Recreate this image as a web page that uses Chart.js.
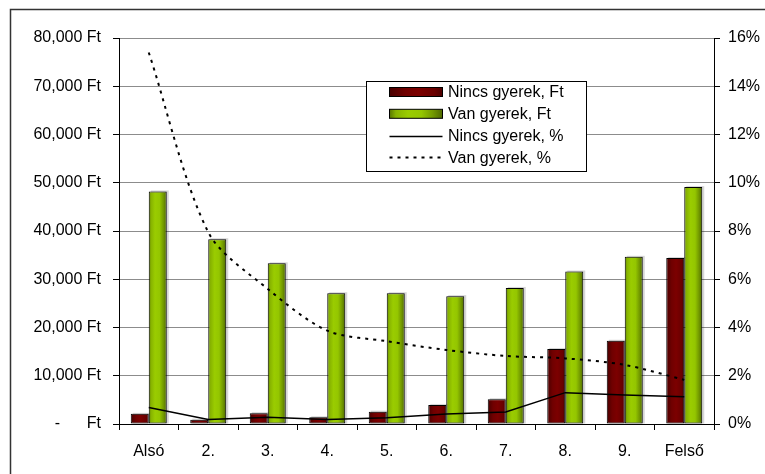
<!DOCTYPE html>
<html>
<head>
<meta charset="utf-8">
<script src="https://cdn.jsdelivr.net/npm/chart.js@4/dist/chart.umd.min.js"></script>
<style>
  html, body { margin: 0; padding: 0; background: #fff; }
  #wrap { position: relative; width: 765px; height: 474px; }
</style>
</head>
<body>
<div id="wrap"><canvas id="c" width="765" height="474"></canvas></div>
<script>
// Income deciles
const categories = ['Alsó', '2.', '3.', '4.', '5.', '6.', '7.', '8.', '9.', 'Felső'];

// Amounts in forint (left axis)
const nincsGyerekFt = [2100, 900, 2250, 1400, 2550, 3950, 5150, 15550, 17250, 34400];
const vanGyerekFt   = [48200, 38300, 33300, 27100, 27100, 26500, 28200, 31600, 34650, 49100];

// Shares in percent (right axis)
const nincsGyerekPct = [0.68, 0.19, 0.28, 0.19, 0.26, 0.41, 0.50, 1.30, 1.20, 1.13];
const vanGyerekPct   = [15.4, 7.95, 5.6, 3.87, 3.43, 3.07, 2.82, 2.72, 2.45, 1.83];

// Axis tick labels
const ftTickLabels  = ['-      Ft', '10,000 Ft', '20,000 Ft', '30,000 Ft', '40,000 Ft',
                       '50,000 Ft', '60,000 Ft', '70,000 Ft', '80,000 Ft'];
const pctTickLabels = ['0%', '2%', '4%', '6%', '8%', '10%', '12%', '14%', '16%'];

const FONT = "'Liberation Sans', Arial, sans-serif";
Chart.defaults.font.family = FONT;
Chart.defaults.font.size = 16;
Chart.defaults.color = '#000';

// Horizontal shading for the cylinder-like bars
const redShade = [[0, '#480000'], [0.3, '#700000'], [0.55, '#7c0000'], [0.85, '#6a0000'], [1, '#4c0000']];
const greenShade = [[0, '#587600'], [0.12, '#86b200'], [0.35, '#9acc00'], [0.6, '#94c600'], [0.82, '#729800'], [1, '#4e6800']];

function makeShade(ctx, x0, x1, stops) {
  const g = ctx.createLinearGradient(x0, 0, x1, 0);
  stops.forEach(([o, c]) => g.addColorStop(o, c));
  return g;
}

const frame = {
  id: 'frame',
  beforeDraw(chart) {
    const ctx = chart.ctx;
    ctx.save();
    ctx.fillStyle = '#fff';
    ctx.fillRect(0, 0, chart.width, chart.height);
    ctx.strokeStyle = '#333';
    ctx.lineWidth = 1.5;
    ctx.strokeRect(10.5, 9.5, 800, 500);
    ctx.restore();
  }
};

// Give every bar its own left-to-right shading and a faint drop shadow
const barShading = {
  id: 'barShading',
  afterDatasetsUpdate(chart) {
    const ctx = chart.ctx;
    chart.data.datasets.forEach((ds, di) => {
      if (ds.type !== 'bar') return;
      chart.getDatasetMeta(di).data.forEach(el => {
        const half = el.width / 2;
        const g = makeShade(ctx, el.x - half, el.x + half, ds.shade);
        el.options = Object.assign({}, el.options, { backgroundColor: g });
      });
    });
  },
  beforeDatasetsDraw(chart) {
    const ctx = chart.ctx;
    const area = chart.chartArea;
    ctx.save();
    ctx.beginPath();
    ctx.rect(area.left, area.top, area.right - area.left, area.bottom - area.top);
    ctx.clip();
    ctx.fillStyle = 'rgba(0,0,0,0.16)';
    chart.data.datasets.forEach((ds, di) => {
      if (ds.type !== 'bar') return;
      chart.getDatasetMeta(di).data.forEach(el => {
        const left = el.x - el.width / 2;
        ctx.fillRect(left + 2, el.y - 1, el.width, el.base - el.y + 1);
      });
    });
    ctx.restore();
  }
};

// Boxed legend inside the plot area
const boxLegend = {
  id: 'boxLegend',
  afterDraw(chart) {
    const ctx = chart.ctx;
    const bx = 366, by = 81, bw = 220, bh = 90;
    ctx.save();
    ctx.fillStyle = '#fff';
    ctx.fillRect(bx, by, bw, bh);
    ctx.strokeStyle = '#000';
    ctx.lineWidth = 1;
    ctx.strokeRect(bx + 0.5, by + 0.5, bw, bh);
    const sx0 = 389.5, sx1 = 442.5;
    chart.data.datasets.forEach((ds, i) => {
      const cy = 92 + i * 21.8;
      if (ds.type === 'bar') {
        ctx.fillStyle = makeShade(ctx, sx0, sx1, ds.shade);
        ctx.fillRect(sx0, cy - 4.5, sx1 - sx0, 9);
        ctx.strokeStyle = '#000';
        ctx.lineWidth = 1;
        ctx.strokeRect(sx0, cy - 4.5, sx1 - sx0, 9);
      } else {
        ctx.strokeStyle = '#000';
        ctx.lineWidth = ds.borderWidth;
        ctx.setLineDash(ds.borderDash || []);
        ctx.beginPath();
        ctx.moveTo(sx0, Math.round(cy) + 0.5);
        ctx.lineTo(sx1, Math.round(cy) + 0.5);
        ctx.stroke();
        ctx.setLineDash([]);
      }
      ctx.fillStyle = '#000';
      ctx.font = '16px ' + FONT;
      ctx.textBaseline = 'alphabetic';
      ctx.textAlign = 'left';
      ctx.fillText(ds.label, 448, cy + 5.3);
    });
    ctx.restore();
  }
};

new Chart(document.getElementById('c'), {
  data: {
    labels: categories,
    datasets: [
      {
        type: 'bar', label: 'Nincs gyerek, Ft', data: nincsGyerekFt, yAxisID: 'y',
        shade: redShade, backgroundColor: '#7a0000', borderColor: '#000', borderWidth: 1,
        borderSkipped: false, categoryPercentage: 0.605, barPercentage: 1, order: 2
      },
      {
        type: 'bar', label: 'Van gyerek, Ft', data: vanGyerekFt, yAxisID: 'y',
        shade: greenShade, backgroundColor: '#99cc00', borderColor: '#000', borderWidth: 1,
        borderSkipped: false, categoryPercentage: 0.605, barPercentage: 1, order: 3
      },
      {
        type: 'line', label: 'Nincs gyerek, %', data: nincsGyerekPct, yAxisID: 'y1',
        borderColor: '#000', borderWidth: 1.5, pointRadius: 0, tension: 0, fill: false, order: 0
      },
      {
        type: 'line', label: 'Van gyerek, %', data: vanGyerekPct, yAxisID: 'y1',
        borderColor: '#000', borderWidth: 2, borderDash: [3, 5], pointRadius: 0,
        tension: 0.3, fill: false, order: 1
      }
    ]
  },
  options: {
    responsive: false,
    devicePixelRatio: 1,
    animation: false,
    layout: { padding: { top: 38, left: 0, right: 0, bottom: 0 } },
    plugins: { legend: { display: false }, tooltip: { enabled: false } },
    scales: {
      x: {
        offset: true,
        grid: { offset: true, drawOnChartArea: false, drawTicks: true, tickLength: 6, tickColor: '#000', color: '#000' },
        border: { color: '#000', width: 1 },
        ticks: { color: '#000', padding: 12, maxRotation: 0, autoSkip: false },
        afterFit(s) { s.height = 50; }
      },
      y: {
        position: 'left', min: 0, max: 80000,
        grid: { color: '#8c8c8c', tickColor: '#000', tickLength: 6 },
        border: { color: '#000', width: 1 },
        ticks: { stepSize: 10000, padding: 12, color: '#000',
                 callback: (v, i) => ftTickLabels[i] },
        afterFit(s) { s.width = 119; }
      },
      y1: {
        position: 'right', min: 0, max: 16,
        grid: { drawOnChartArea: false, tickColor: '#000', tickLength: 6 },
        border: { color: '#000', width: 1 },
        ticks: { stepSize: 2, padding: 8, color: '#000',
                 callback: (v, i) => pctTickLabels[i] },
        afterFit(s) { s.width = 51; }
      }
    }
  },
  plugins: [frame, barShading, boxLegend]
});
</script>
</body>
</html>
